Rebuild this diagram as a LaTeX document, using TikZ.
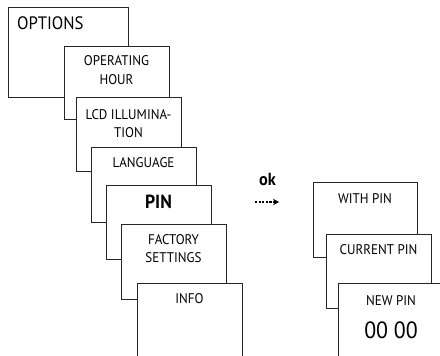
\documentclass[tikz,border=0pt]{standalone}
\usepackage{fontspec}
\setmainfont{PT Sans}[FakeStretch=0.93]
\usetikzlibrary{arrows.meta}
\tikzset{
  box/.style={draw=black!85, line width=0.8pt, fill=white, rectangle},
  lbl/.style={inner sep=0pt, anchor=base, font=\fontsize{14}{18}\selectfont, text=black},
}
\begin{document}
\begin{tikzpicture}[x=1pt,y=-1pt]
\useasboundingbox (0,0) rectangle (440,356);
\clip (0,0) rectangle (440,356);
% left stack
\draw[box] (8,7) rectangle (128,97);
\node[lbl, anchor=base west, font=\fontsize{18}{22}\selectfont] (topt) at (17,30) {OPTIONS};
\draw[box] (64,46) rectangle (169,119);
\node[lbl] (top1) at (116.5,66) {OPERATING};
\node[lbl] (top2) at (116.5,84) {HOUR};
\draw[box] (76,97) rectangle (181,171);
\node[lbl] (tlcd1) at (128.5,119) {LCD ILLUMINA-};
\node[lbl] (tlcd2) at (128.5,137) {TION};
\draw[box] (91,147) rectangle (196,222);
\node[lbl] (tlang) at (143.5,167) {LANGUAGE};
\draw[box] (106,185) rectangle (211,259);
\node[lbl, font=\fontsize{19}{22}\bfseries] (tpin) at (158.5,208) {PIN};
\draw[box] (121,224) rectangle (226,299);
\node[lbl] (tfac1) at (173.5,244) {FACTORY};
\node[lbl] (tfac2) at (173.5,262) {SETTINGS};
\draw[box] (137,283) rectangle (242,380);
\node[lbl] (tinfo) at (189.5,303) {INFO};
% ok arrow
\node[lbl, font=\fontsize{17.5}{20}\bfseries] (ok) at (267.5,185) {ok};
\coordinate (a1) at (255,202);
\coordinate (a2) at (279,202);
\draw[black, line width=1.3pt, dash pattern=on 2.2pt off 1.4pt, -{Stealth[length=6pt,width=6.5pt]}] (a1) -- (a2);
% right stack
\draw[box] (313,182) rectangle (417,257);
\node[lbl] (twith) at (365,203) {WITH PIN};
\draw[box] (326,234) rectangle (431,308);
\node[lbl] (tcur) at (378.5,254) {CURRENT PIN};
\draw[box] (338,283) rectangle (460,380);
\node[lbl] (tnew) at (391,305) {NEW PIN};
\node[lbl, font=\fontsize{23.5}{26}\selectfont] (tval) at (391,338) {00 00};
\end{tikzpicture}
\end{document}
